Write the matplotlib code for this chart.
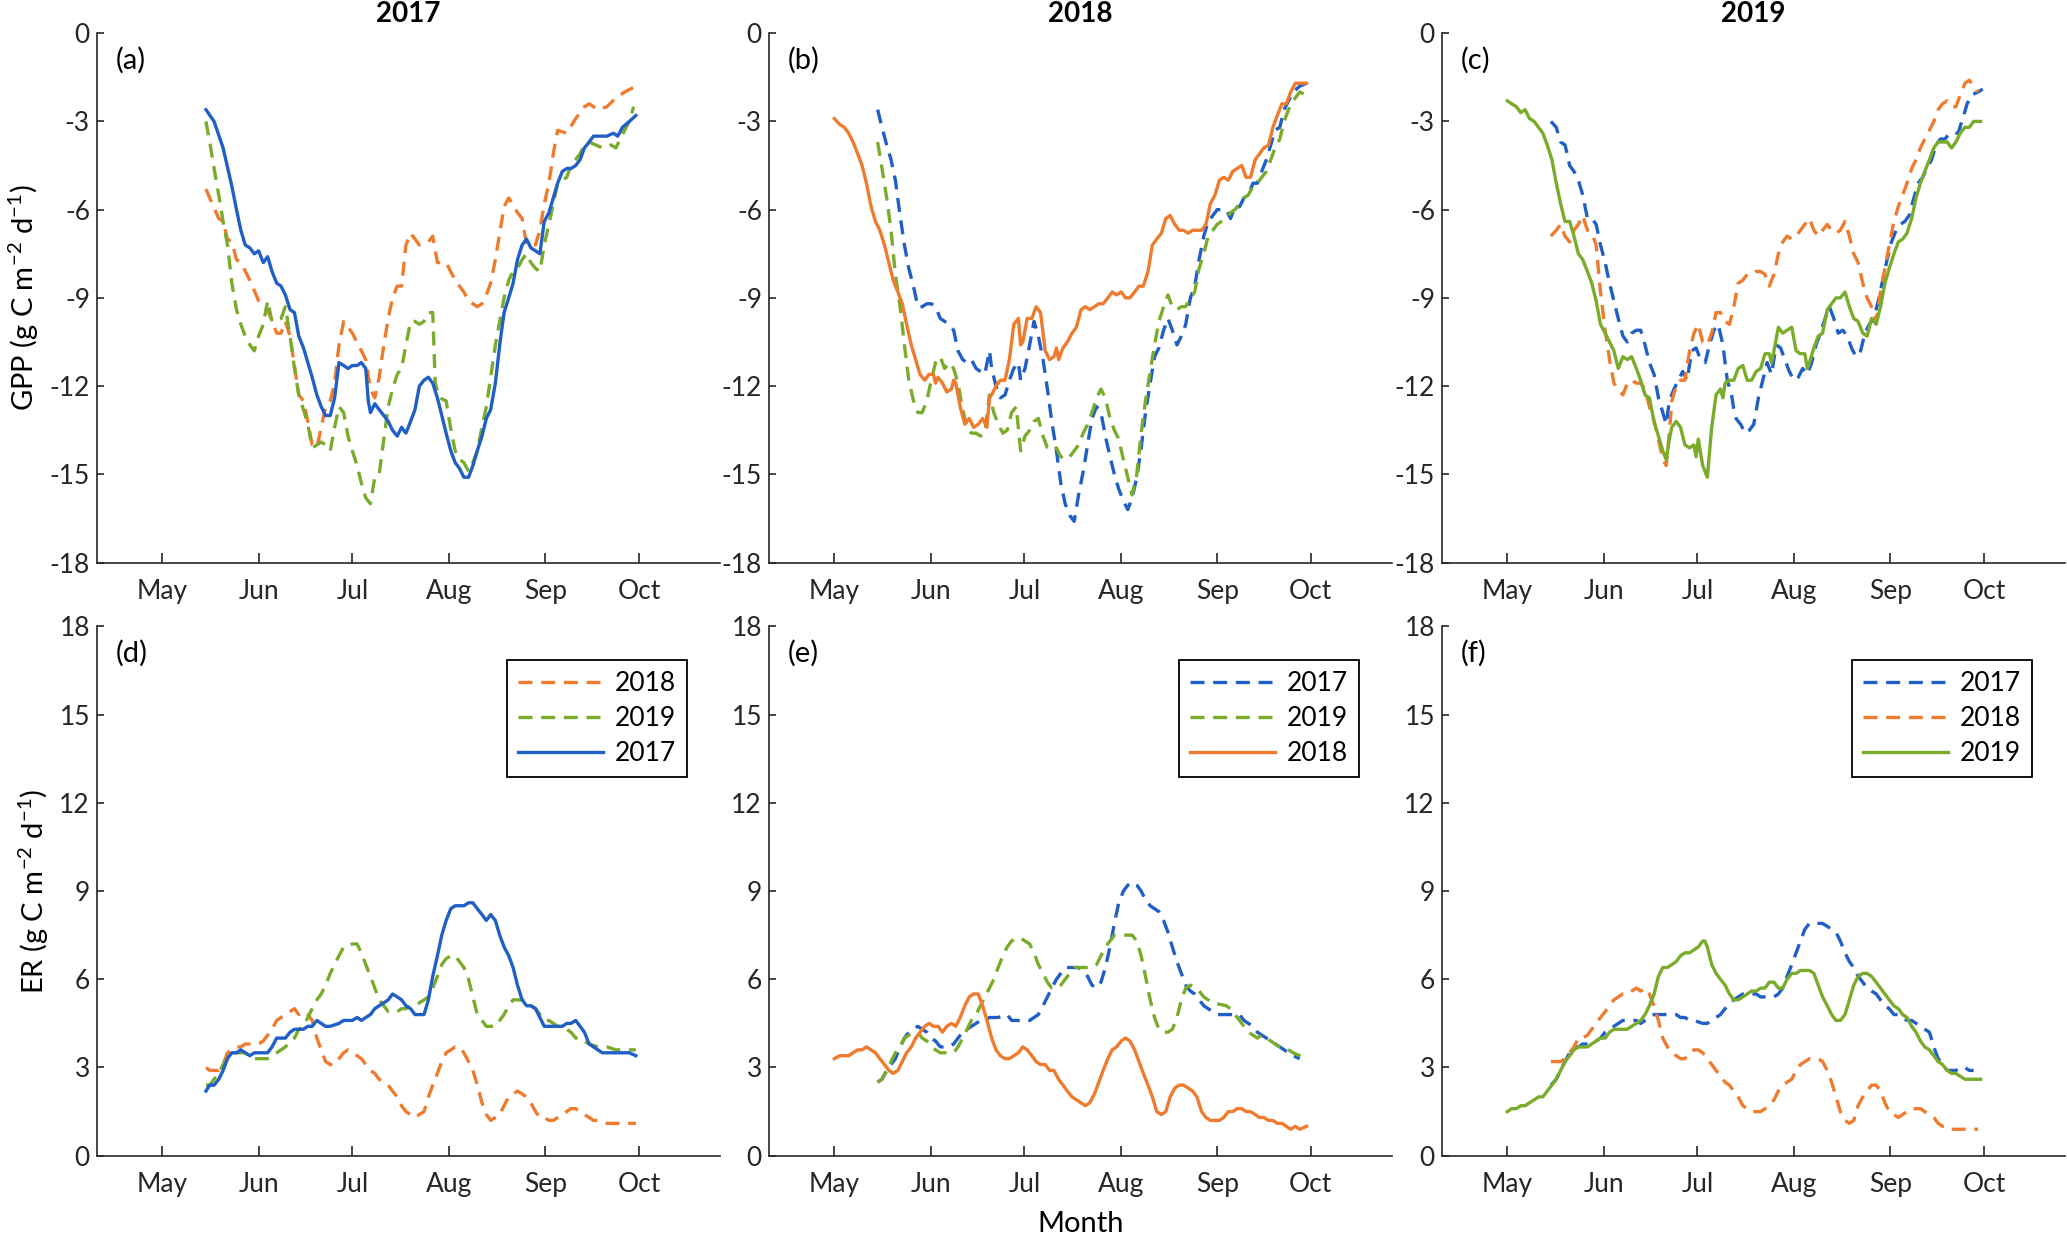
import matplotlib
matplotlib.use("Agg")
import matplotlib.pyplot as plt

plt.rcParams['font.family'] = ['Lato', 'DejaVu Sans']
plt.rcParams['mathtext.fontset'] = 'custom'
plt.rcParams['mathtext.rm'] = 'Lato'
plt.rcParams['mathtext.it'] = 'Lato:italic'
plt.rcParams['axes.unicode_minus'] = False

# day of year of the first of each month
month_days = [121, 152, 182, 213, 244, 274]
month_labels = ['May', 'Jun', 'Jul', 'Aug', 'Sep', 'Oct']
years = ['2017', '2018', '2019']

# ---- GPP, panel (a) : 2017 ----
gpp_a_2017 = [(135.0,-2.6),(137.6,-3.0),(140.5,-3.9),(143.3,-5.2),(144.8,-6.0),(146.2,-6.7),(147.6,-7.2),(149.1,-7.3),
              (150.5,-7.5),(151.9,-7.4),(153.4,-7.8),(154.8,-7.6),(156.2,-8.1),(157.7,-8.5),(159.1,-8.6),(160.5,-8.9),
              (162.0,-9.4),(163.4,-9.5),(164.8,-10.3),(166.3,-10.7),(167.7,-11.2),(169.1,-11.7),(170.6,-12.3),(172.0,-12.7),
              (173.4,-13.0),(174.9,-13.0),(176.3,-12.4),(177.7,-11.2),(179.2,-11.3),(180.6,-11.4),(182.0,-11.3),(183.5,-11.3),
              (184.9,-11.2),(186.3,-11.4),(187.1,-12.5),(187.8,-12.9),(189.2,-12.6),(190.6,-12.8),(192.1,-13.0),(193.5,-13.2),
              (194.9,-13.5),(196.4,-13.7),(197.8,-13.4),(199.2,-13.6),(200.7,-13.2),(202.1,-12.8),(203.5,-12.0),(205.0,-11.8),
              (206.4,-11.7),(207.8,-11.9),(209.3,-12.4),(210.7,-13.0),(212.1,-13.6),(213.6,-14.2),(215.0,-14.6),(216.4,-14.8),
              (217.8,-15.1),(219.3,-15.1),(220.7,-14.7),(222.1,-14.2),(223.6,-13.7),(225.0,-13.1),(226.4,-12.8),(227.9,-11.9),
              (229.3,-10.6),(230.7,-9.5),(232.2,-9.0),(233.6,-8.5),(235.0,-7.7),(236.5,-7.2),(237.9,-7.0),(239.3,-7.3),
              (240.8,-7.4),(242.2,-7.5),(243.6,-6.4),(245.1,-6.1),(246.5,-5.6),(247.9,-5.1),(249.4,-4.7),(250.8,-4.6),
              (252.2,-4.6),(253.7,-4.5),(255.1,-4.3),(256.5,-3.9),(258.0,-3.7),(259.4,-3.5),(262.3,-3.5),(263.7,-3.5),
              (265.8,-3.4),(267.2,-3.5),(268.7,-3.2),(270.9,-3.0),(273.0,-2.8)]
gpp_a_2018 = [(135.0,-5.3),(136.2,-5.6),(139.1,-6.3),(140.5,-6.4),(141.9,-7.0),(143.3,-7.1),(144.8,-7.7),(146.2,-7.8),
              (149.1,-8.4),(151.9,-9.1),(154.8,-9.4),(157.7,-10.2),(159.1,-10.2),(160.5,-9.8),(162.0,-10.3),(164.8,-12.3),
              (166.3,-12.5),(167.7,-13.2),(169.1,-14.0),(170.6,-14.1),(172.0,-13.4),(173.4,-12.7),(174.9,-12.5),(176.3,-11.9),
              (177.7,-10.6),(179.2,-9.8),(182.0,-10.2),(184.9,-10.8),(186.3,-11.1),(187.8,-12.1),(189.2,-12.4),(190.6,-11.7),
              (192.1,-10.6),(193.5,-9.7),(194.9,-9.0),(196.4,-8.6),(197.8,-8.6),(199.2,-7.2),(200.7,-6.8),(203.5,-7.2),
              (206.4,-7.1),(207.8,-6.9),(209.3,-7.8),(212.1,-7.8),(215.0,-8.4),(217.8,-8.8),(219.3,-9.1),(222.1,-9.3),
              (223.6,-9.2),(225.0,-8.9),(226.4,-8.5),(227.9,-7.7),(229.3,-6.8),(230.7,-5.9),(232.2,-5.6),(235.0,-6.1),
              (236.5,-6.3),(237.9,-7.2),(240.8,-7.2),(242.2,-6.7),(243.6,-5.8),(245.1,-5.1),(246.5,-4.1),(247.9,-3.3),
              (250.8,-3.4),(253.7,-2.9),(256.5,-2.5),(258.0,-2.4),(260.8,-2.6),(263.7,-2.5),(266.6,-2.2),(269.4,-2.0),
              (273.0,-1.8)]
gpp_a_2019 = [(135.0,-3.0),(136.2,-3.7),(137.6,-4.6),(139.1,-5.5),(140.5,-6.4),(141.9,-7.2),(143.3,-8.5),(144.8,-9.4),
              (146.2,-9.9),(147.6,-10.3),(149.1,-10.6),(150.5,-10.8),(151.9,-10.3),(153.4,-9.9),(154.8,-9.1),(156.2,-9.8),
              (159.1,-9.7),(160.5,-9.3),(162.0,-10.3),(163.4,-11.4),(164.8,-12.3),(166.3,-12.8),(167.7,-13.3),(169.1,-14.1),
              (170.6,-14.0),(172.0,-13.9),(173.4,-14.0),(174.9,-14.2),(176.3,-13.4),(177.7,-12.7),(179.2,-12.9),(180.6,-13.7),
              (182.0,-14.2),(183.5,-14.7),(184.9,-15.3),(186.3,-15.8),(187.8,-16.0),(189.2,-15.1),(190.6,-15.0),(192.1,-13.8),
              (193.5,-12.7),(194.9,-12.1),(196.4,-11.6),(197.8,-11.4),(199.2,-10.6),(200.7,-9.8),(202.1,-9.8),(203.5,-9.9),
              (205.0,-9.8),(206.4,-9.5),(207.8,-9.5),(208.6,-11.9),(210.0,-12.4),(212.1,-12.5),(213.5,-13.4),(215.0,-14.2),
              (216.4,-14.5),(217.8,-14.6),(219.3,-14.9),(220.7,-14.6),(222.1,-14.2),(223.6,-13.4),(225.0,-12.7),(226.4,-11.7),
              (227.9,-10.6),(229.3,-9.8),(230.7,-9.0),(232.2,-8.4),(233.6,-8.1),(235.0,-8.0),(236.5,-7.7),(237.9,-7.5),
              (239.3,-7.8),(240.8,-8.0),(242.2,-8.1),(243.6,-7.2),(245.1,-6.5),(246.5,-5.8),(247.9,-5.1),(250.8,-4.9),
              (252.2,-4.5),(255.1,-4.1),(256.5,-3.8),(258.0,-3.7),(262.3,-3.9),(265.1,-3.8),(266.6,-3.9),(268.0,-3.6),
              (269.4,-3.3),(270.9,-3.0),(272.3,-2.5)]

# ---- GPP, panel (b) : 2018 ----
gpp_b_2017 = [(134.9,-2.6),(136.3,-3.2),(137.8,-3.8),(139.2,-4.3),(140.6,-5.0),(142.1,-6.2),(143.5,-7.2),(144.9,-8.0),
              (146.4,-8.6),(147.8,-9.3),(149.2,-9.3),(150.7,-9.2),(152.1,-9.2),(153.5,-9.3),(155.0,-9.7),(156.4,-9.8),
              (157.9,-9.9),(159.3,-10.1),(160.7,-10.8),(162.2,-11.1),(163.6,-11.2),(165.0,-11.1),(166.5,-11.4),(167.9,-11.5),
              (169.3,-11.6),(170.8,-10.8),(171.5,-11.4),(172.9,-12.0),(174.3,-12.4),(175.8,-12.3),(177.2,-11.8),(178.6,-11.4),
              (180.1,-11.2),(180.8,-11.8),(182.2,-11.4),(183.7,-10.6),(185.1,-9.8),(186.5,-10.3),(188.0,-11.1),(189.4,-12.1),
              (190.8,-13.2),(192.3,-14.2),(193.7,-15.3),(195.1,-16.0),(196.6,-16.4),(198.0,-16.6),(199.4,-15.7),(200.9,-14.9),
              (202.3,-14.0),(203.7,-13.1),(205.2,-12.7),(206.6,-12.9),(208.0,-13.7),(209.5,-14.4),(210.9,-15.0),(212.3,-15.5),
              (213.8,-15.9),(215.2,-16.2),(216.6,-15.8),(218.1,-15.1),(219.5,-14.1),(220.9,-12.9),(222.4,-11.9),(223.8,-11.0),
              (225.2,-10.7),(226.7,-10.1),(228.1,-9.7),(229.5,-10.1),(231.0,-10.6),(232.4,-10.3),(233.8,-9.9),(235.3,-9.0),
              (236.7,-8.6),(238.1,-7.7),(239.6,-6.9),(241.0,-6.4),(242.5,-6.2),(243.9,-6.0),(245.3,-6.0),(246.8,-6.0),
              (248.2,-6.3),(249.6,-5.9),(251.1,-5.9),(252.5,-5.6),(253.9,-5.5),(255.4,-5.1),(256.8,-5.1),(258.2,-4.7),
              (259.7,-4.3),(261.1,-3.8),(262.5,-3.3),(264.0,-3.2),(265.4,-2.6),(266.8,-2.3),(268.3,-2.0),(270.4,-1.8),
              (272.6,-1.7)]
gpp_b_2019 = [(134.9,-3.7),(136.3,-4.6),(137.8,-5.6),(139.2,-6.7),(140.6,-8.2),(142.1,-9.3),(143.5,-10.6),(144.9,-11.8),
              (146.4,-12.5),(147.8,-12.9),(149.2,-12.9),(150.7,-12.5),(152.1,-11.8),(153.5,-11.2),(155.0,-11.0),(156.4,-11.4),
              (157.9,-11.2),(159.3,-11.4),(160.7,-11.9),(162.2,-12.8),(163.6,-13.4),(165.0,-13.6),(166.5,-13.6),(167.9,-13.7),
              (169.3,-13.6),(170.8,-12.3),(172.2,-12.9),(173.6,-13.3),(175.1,-13.6),(176.5,-13.5),(177.9,-12.9),(179.4,-12.7),
              (180.8,-14.2),(182.2,-13.7),(183.7,-13.5),(185.1,-13.2),(186.5,-13.1),(188.0,-13.7),(189.4,-14.1),(190.8,-14.2),
              (192.3,-14.1),(193.7,-14.4),(195.1,-14.5),(196.6,-14.4),(198.0,-14.2),(199.4,-14.0),(200.9,-13.6),(202.3,-13.3),
              (203.7,-12.9),(205.2,-12.4),(206.6,-12.1),(208.0,-12.4),(209.5,-13.1),(210.9,-13.5),(212.3,-13.8),(213.8,-14.5),
              (215.2,-15.1),(216.6,-15.7),(218.1,-15.0),(219.5,-13.6),(220.9,-12.5),(222.4,-11.5),(223.8,-10.6),(225.2,-9.8),
              (226.7,-9.3),(228.1,-8.9),(229.5,-9.3),(231.0,-9.4),(232.4,-9.3),(233.8,-9.3),(235.3,-9.0),(236.7,-8.8),
              (238.1,-8.0),(239.6,-7.5),(241.0,-6.9),(242.5,-6.7),(243.9,-6.5),(245.3,-6.4),(246.8,-6.3),(248.2,-6.1),
              (249.6,-6.0),(251.1,-5.8),(252.5,-5.6),(253.9,-5.5),(255.4,-5.2),(256.8,-5.1),(258.2,-4.9),(259.7,-4.7),
              (261.1,-4.3),(262.5,-3.9),(264.0,-3.6),(265.4,-3.0),(266.8,-2.6),(268.3,-2.3),(270.4,-2.0),(272.6,-2.1)]
gpp_b_2018 = [(121.0,-2.9),(122.7,-3.1),(124.2,-3.2),(125.6,-3.4),(127.0,-3.7),(128.5,-4.1),(129.9,-4.5),(131.3,-5.1),
              (132.8,-5.9),(134.2,-6.4),(135.6,-6.7),(137.1,-7.2),(138.5,-7.8),(139.9,-8.4),(141.4,-8.8),(142.8,-9.2),
              (144.2,-9.9),(145.7,-10.6),(147.1,-11.1),(148.5,-11.6),(150.0,-11.8),(151.4,-11.6),(152.8,-11.6),(153.5,-11.9),
              (154.3,-11.7),(155.7,-11.9),(157.1,-12.2),(158.6,-12.1),(159.3,-11.8),(160.0,-11.9),(161.4,-12.7),(162.9,-13.3),
              (164.3,-13.1),(165.7,-13.4),(167.2,-13.3),(168.6,-13.1),(170.0,-13.4),(170.8,-12.4),(171.5,-12.3),(172.9,-12.0),
              (174.3,-11.8),(175.8,-11.8),(177.2,-11.1),(178.6,-9.9),(180.1,-9.7),(180.8,-10.6),(181.5,-10.5),(182.9,-9.7),
              (184.4,-9.7),(185.8,-9.3),(187.2,-9.5),(188.7,-10.8),(190.1,-11.1),(191.5,-11.0),(192.3,-10.7),(193.0,-11.1),
              (194.4,-10.7),(195.8,-10.5),(197.3,-10.2),(198.7,-10.0),(200.2,-9.4),(201.6,-9.3),(203.0,-9.4),(204.5,-9.3),
              (205.9,-9.2),(207.3,-9.2),(208.8,-9.0),(210.2,-8.8),(211.6,-8.9),(213.1,-8.8),(214.5,-9.0),(215.9,-9.0),
              (217.4,-8.8),(218.8,-8.6),(220.2,-8.6),(221.7,-8.1),(223.1,-7.2),(224.5,-7.0),(226.0,-6.8),(227.4,-6.3),
              (228.8,-6.2),(230.3,-6.5),(231.7,-6.7),(233.1,-6.7),(234.6,-6.8),(236.0,-6.7),(237.4,-6.7),(238.9,-6.7),
              (240.3,-6.5),(241.7,-5.8),(243.2,-5.5),(244.6,-5.0),(246.0,-4.9),(247.5,-5.0),(248.9,-4.7),(250.3,-4.6),
              (251.8,-4.5),(253.2,-4.9),(254.6,-4.9),(256.1,-4.3),(257.5,-4.1),(258.9,-3.9),(260.4,-3.8),(261.8,-3.2),
              (263.2,-2.8),(264.7,-2.4),(266.1,-2.4),(267.5,-2.0),(269.0,-1.7),(270.4,-1.7),(272.6,-1.7)]

# ---- GPP, panel (c) : 2019 ----
gpp_c_2017 = [(135.0,-3.0),(136.7,-3.2),(138.1,-3.7),(139.5,-3.8),(140.2,-4.1),(141.0,-4.5),(142.4,-4.7),(143.8,-5.0),
              (145.2,-5.5),(146.7,-6.3),(148.1,-6.3),(149.5,-6.5),(150.9,-7.2),(152.4,-7.8),(153.8,-8.5),(155.2,-9.1),
              (156.6,-9.7),(158.1,-10.3),(159.5,-10.5),(160.9,-10.2),(162.4,-10.1),(163.8,-10.1),(165.2,-10.6),(166.6,-11.2),
              (168.1,-11.6),(169.5,-12.4),(170.9,-12.9),(172.0,-13.3),(173.0,-12.5),(174.5,-12.1),(175.9,-11.8),(177.3,-11.5),
              (178.7,-11.8),(180.2,-10.8),(181.6,-10.7),(183.0,-11.1),(184.5,-11.2),(185.9,-10.6),(187.3,-10.1),(188.7,-9.9),
              (190.2,-10.6),(191.6,-11.8),(193.0,-12.3),(193.7,-12.8),(194.4,-13.1),(195.9,-13.3),(197.3,-13.6),(198.7,-13.5),
              (200.1,-13.3),(201.6,-12.4),(203.0,-11.8),(204.4,-11.2),(205.8,-11.6),(207.3,-10.6),(208.7,-10.7),(210.1,-11.1),
              (211.5,-11.5),(213.0,-11.8),(214.4,-11.7),(215.8,-11.4),(217.3,-11.6),(218.7,-11.2),(220.1,-10.6),(221.5,-10.2),
              (223.0,-9.7),(224.4,-9.3),(225.8,-9.7),(227.2,-10.2),(228.7,-10.1),(230.1,-10.3),(231.5,-10.7),(232.9,-11.0),
              (234.4,-10.8),(235.8,-10.2),(237.2,-9.9),(238.6,-9.7),(240.1,-9.1),(241.5,-8.4),(242.9,-7.7),(244.3,-7.1),
              (245.8,-6.7),(247.2,-6.5),(248.6,-6.4),(250.0,-6.2),(251.5,-5.6),(252.9,-5.1),(254.3,-4.9),(255.7,-4.6),
              (257.2,-4.3),(258.6,-3.8),(260.0,-3.6),(261.5,-3.6),(262.9,-3.4),(264.3,-3.4),(265.7,-3.4),(267.2,-2.9),
              (268.6,-2.4),(270.0,-2.1),(272.1,-2.0),(273.6,-1.9)]
gpp_c_2018 = [(135.0,-6.9),(136.7,-6.7),(138.1,-6.5),(139.5,-6.9),(141.0,-7.1),(142.4,-6.7),(143.8,-6.5),(145.2,-6.2),
              (146.7,-6.7),(148.1,-6.8),(149.5,-7.2),(150.9,-8.8),(152.4,-10.1),(153.8,-11.1),(155.2,-11.9),(156.6,-12.1),
              (158.1,-12.3),(159.5,-11.9),(160.9,-11.8),(162.4,-11.9),(163.8,-11.9),(165.2,-12.1),(166.6,-12.7),(168.1,-13.2),
              (169.5,-13.8),(170.9,-14.5),(172.0,-14.7),(173.0,-13.6),(173.8,-12.5),(175.2,-12.0),(176.6,-11.8),(178.0,-11.8),
              (179.5,-10.8),(180.9,-10.2),(182.3,-9.9),(183.7,-10.5),(185.2,-10.6),(186.6,-10.2),(188.0,-9.5),(189.4,-9.5),
              (190.9,-9.8),(192.3,-9.9),(193.7,-9.3),(195.1,-8.5),(196.6,-8.4),(198.0,-8.2),(199.4,-8.2),(200.9,-8.1),
              (202.3,-8.1),(203.7,-8.2),(205.1,-8.6),(206.6,-8.2),(208.0,-7.5),(209.4,-7.1),(210.8,-6.9),(212.3,-7.0),
              (213.7,-6.9),(215.1,-6.7),(216.5,-6.5),(218.0,-6.3),(219.4,-6.7),(220.8,-6.9),(222.2,-6.7),(223.7,-6.5),
              (225.1,-6.7),(226.5,-6.8),(227.9,-6.7),(229.4,-6.4),(230.8,-6.9),(232.2,-7.5),(233.6,-7.8),(235.1,-8.5),
              (236.5,-9.0),(237.9,-9.3),(239.4,-9.8),(240.8,-8.8),(242.2,-8.0),(243.6,-7.2),(245.1,-6.4),(246.5,-5.9),
              (247.9,-5.5),(249.3,-5.1),(250.8,-4.6),(252.2,-4.3),(253.6,-3.9),(255.0,-3.6),(256.5,-3.3),(257.9,-3.0),
              (259.3,-2.6),(260.7,-2.4),(262.2,-2.3),(263.6,-2.5),(265.0,-2.5),(266.4,-2.1),(267.9,-1.7),(269.3,-1.6),
              (270.7,-1.8),(272.1,-2.0)]
gpp_c_2019 = [(121.0,-2.3),(122.4,-2.4),(123.9,-2.5),(125.3,-2.7),(126.7,-2.6),(128.1,-2.9),(129.6,-3.0),(131.0,-3.2),
              (132.4,-3.4),(133.8,-3.8),(135.3,-4.3),(136.7,-5.1),(138.1,-5.8),(139.5,-6.4),(141.0,-6.4),(142.4,-6.9),
              (143.8,-7.5),(145.2,-7.7),(146.7,-8.1),(148.1,-8.5),(149.5,-9.1),(150.9,-9.9),(152.4,-10.2),(153.8,-10.5),
              (155.2,-10.8),(156.6,-11.4),(158.1,-11.0),(159.5,-11.1),(160.9,-11.0),(162.4,-11.4),(163.8,-11.8),(165.2,-12.3),
              (166.6,-12.4),(168.1,-13.2),(169.5,-13.7),(170.9,-14.2),(172.0,-14.5),(173.0,-13.8),(173.8,-13.4),(175.2,-13.2),
              (176.6,-13.4),(178.0,-14.0),(179.5,-14.1),(180.9,-14.0),(181.6,-14.4),(182.3,-13.8),(183.7,-14.7),(185.2,-15.1),
              (186.6,-13.4),(188.0,-12.3),(189.4,-12.1),(190.2,-12.4),(190.9,-11.9),(192.3,-11.8),(193.7,-11.8),(195.1,-11.4),
              (196.6,-11.3),(198.0,-11.8),(199.4,-11.8),(200.9,-11.5),(202.3,-11.4),(203.7,-10.9),(205.1,-10.9),(205.8,-11.2),
              (206.6,-10.8),(208.0,-10.0),(209.4,-10.2),(210.8,-10.1),(212.3,-10.0),(213.7,-10.8),(215.1,-10.9),(216.5,-10.9),
              (217.3,-11.4),(218.0,-11.2),(219.4,-10.7),(220.8,-10.3),(222.2,-10.2),(223.7,-9.4),(225.1,-9.2),(226.5,-9.0),
              (227.9,-9.0),(229.4,-8.8),(230.8,-9.3),(232.2,-9.7),(233.6,-9.8),(235.1,-10.2),(236.5,-10.3),(237.9,-9.7),
              (239.4,-9.9),(240.8,-9.3),(242.2,-8.5),(243.6,-8.0),(245.1,-7.5),(246.5,-7.1),(247.9,-7.0),(249.3,-6.8),
              (250.8,-6.3),(252.2,-5.6),(253.6,-5.1),(255.0,-4.7),(256.5,-4.3),(257.9,-3.9),(259.3,-3.7),(260.7,-3.7),
              (262.2,-3.7),(263.6,-3.9),(265.0,-3.7),(266.4,-3.4),(267.9,-3.2),(269.3,-3.2),(270.7,-3.0),(272.9,-3.0)]

# ---- ER, panel (d) : 2017 ----
er_d_2018 = [(135.0,3.0),(136.2,2.9),(137.6,2.9),(139.1,2.9),(140.5,3.1),(141.9,3.5),(143.3,3.6),(144.8,3.7),
             (146.2,3.7),(147.6,3.8),(151.9,3.8),(153.4,3.9),(154.8,4.1),(156.2,4.3),(157.7,4.6),(159.1,4.7),
             (160.5,4.8),(162.0,4.9),(163.4,5.0),(164.8,4.8),(166.3,4.9),(167.7,4.8),(169.1,4.6),(170.6,4.0),
             (172.0,3.6),(173.4,3.2),(174.9,3.1),(176.3,3.1),(177.7,3.3),(179.2,3.5),(180.6,3.6),(182.0,3.5),
             (183.5,3.4),(184.9,3.3),(186.3,3.1),(187.8,2.9),(189.2,2.8),(190.6,2.6),(192.1,2.5),(193.5,2.4),
             (194.9,2.2),(196.4,2.0),(197.8,1.7),(199.2,1.5),(200.7,1.4),(202.1,1.3),(203.5,1.4),(205.0,1.5),
             (206.4,2.0),(207.8,2.4),(209.3,2.8),(210.7,3.2),(212.1,3.5),(213.6,3.6),(215.0,3.7),(216.4,3.7),
             (217.8,3.5),(219.3,3.2),(220.7,2.9),(222.1,2.4),(223.6,1.8),(225.0,1.4),(226.4,1.2),(227.9,1.3),
             (229.3,1.4),(230.7,1.7),(232.2,2.0),(233.6,2.1),(235.0,2.2),(236.5,2.1),(237.9,2.0),(239.3,1.8),
             (240.8,1.5),(242.2,1.3),(243.6,1.3),(245.1,1.2),(246.5,1.2),(247.9,1.3),(249.4,1.4),(250.8,1.5),
             (252.2,1.6),(253.7,1.6),(255.1,1.5),(256.5,1.4),(258.0,1.3),(259.4,1.2),(260.8,1.2),(263.7,1.1),
             (266.6,1.1),(269.4,1.1),(273.0,1.1)]
er_d_2019 = [(135.0,2.4),(136.2,2.4),(137.6,2.6),(139.1,2.8),(140.5,3.1),(141.9,3.3),(143.3,3.5),(144.8,3.5),
             (146.2,3.5),(147.6,3.5),(149.1,3.4),(150.5,3.3),(153.4,3.3),(154.8,3.3),(156.2,3.4),(157.7,3.5),
             (159.1,3.6),(160.5,3.7),(162.0,3.9),(163.4,4.0),(164.8,4.3),(166.3,4.4),(167.7,4.7),(169.1,5.0),
             (170.6,5.3),(172.0,5.5),(173.4,5.8),(174.9,6.2),(176.3,6.5),(177.7,6.8),(179.2,7.1),(182.0,7.2),
             (183.5,7.2),(184.9,6.9),(186.3,6.5),(187.8,6.1),(189.2,5.7),(190.6,5.3),(192.1,5.1),(193.5,4.9),
             (196.4,4.9),(197.8,5.0),(199.2,5.0),(200.7,5.1),(202.1,5.1),(203.5,5.2),(205.0,5.3),(206.4,5.4),
             (207.8,5.7),(209.3,6.1),(210.7,6.5),(212.1,6.7),(213.6,6.8),(215.0,6.8),(216.4,6.6),(217.8,6.4),
             (219.3,6.0),(220.7,5.4),(222.1,4.8),(223.6,4.6),(225.0,4.4),(226.4,4.4),(227.9,4.4),(229.3,4.6),
             (230.7,4.8),(232.2,5.1),(233.6,5.3),(236.5,5.3),(237.9,5.2),(239.3,5.1),(240.8,5.0),(242.2,4.8),
             (243.6,4.6),(245.1,4.6),(246.5,4.5),(247.9,4.4),(250.8,4.3),(252.2,4.2),(253.7,4.0),(255.1,4.0),
             (256.5,3.9),(258.0,3.8),(260.8,3.7),(263.7,3.7),(266.6,3.6),(269.4,3.6),(273.0,3.6)]
er_d_2017 = [(135.0,2.2),(136.2,2.4),(137.6,2.4),(139.1,2.6),(140.5,2.9),(141.9,3.3),(143.3,3.5),(144.8,3.5),
             (146.2,3.6),(147.6,3.5),(149.1,3.4),(150.5,3.5),(153.4,3.5),(154.8,3.5),(156.2,3.7),(157.7,4.0),
             (160.5,4.0),(162.0,4.2),(163.4,4.3),(166.3,4.3),(167.7,4.4),(169.1,4.4),(170.6,4.6),(172.0,4.5),
             (173.4,4.4),(174.9,4.4),(177.7,4.5),(179.2,4.6),(182.0,4.6),(183.5,4.7),(184.9,4.6),(186.3,4.7),
             (187.8,4.8),(189.2,5.0),(190.6,5.1),(192.1,5.2),(193.5,5.3),(194.9,5.5),(196.4,5.4),(197.8,5.3),
             (199.2,5.1),(200.7,5.0),(202.1,4.8),(203.5,4.8),(205.0,4.8),(206.4,5.3),(207.8,6.1),(209.3,6.8),
             (210.7,7.5),(212.1,8.0),(213.6,8.4),(215.0,8.5),(217.8,8.5),(219.3,8.6),(220.7,8.6),(222.1,8.4),
             (223.6,8.2),(225.0,8.0),(226.4,8.2),(227.9,8.0),(229.3,7.5),(230.7,7.1),(232.2,6.8),(233.6,6.4),
             (235.0,5.8),(236.5,5.3),(237.9,5.1),(239.3,5.1),(240.8,5.0),(242.2,4.7),(243.6,4.4),(246.5,4.4),
             (249.4,4.4),(250.8,4.5),(252.2,4.5),(253.7,4.6),(255.1,4.4),(256.5,4.2),(258.0,3.8),(259.4,3.7),
             (260.8,3.6),(262.3,3.5),(266.6,3.5),(269.4,3.5),(270.9,3.5),(273.0,3.4)]

# ---- ER, panel (e) : 2018 ----
er_e_2017 = [(134.9,2.5),(136.3,2.6),(137.8,2.9),(139.2,3.1),(140.6,3.3),(142.1,3.7),(143.5,4.0),(144.9,4.2),
             (146.4,4.3),(147.8,4.4),(149.2,4.3),(150.7,4.2),(152.1,4.0),(153.5,3.9),(155.0,3.7),(157.9,3.7),
             (159.3,3.8),(160.7,4.0),(162.2,4.2),(163.6,4.3),(165.0,4.4),(166.5,4.5),(167.9,4.6),(169.3,4.6),
             (170.8,4.7),(173.6,4.7),(176.5,4.8),(177.9,4.6),(179.4,4.6),(182.2,4.6),(183.7,4.6),(185.1,4.7),
             (186.5,4.8),(188.0,5.1),(189.4,5.4),(190.8,5.7),(192.3,6.0),(193.7,6.2),(195.1,6.4),(198.0,6.4),
             (199.4,6.4),(200.9,6.3),(202.3,6.1),(203.7,5.8),(205.2,5.7),(206.6,5.9),(208.0,6.4),(209.5,7.1),
             (210.9,7.9),(212.3,8.6),(213.8,9.0),(215.2,9.2),(216.6,9.3),(218.1,9.2),(219.5,9.0),(220.9,8.7),
             (222.4,8.5),(223.8,8.4),(225.2,8.3),(226.7,8.0),(228.1,7.6),(229.5,7.1),(231.0,6.6),(232.4,6.2),
             (233.8,5.8),(235.3,5.6),(236.7,5.5),(238.1,5.3),(239.6,5.1),(241.0,5.0),(242.5,4.9),(243.9,4.8),
             (251.1,4.8),(252.5,4.6),(253.9,4.5),(255.4,4.4),(256.8,4.2),(258.2,4.1),(259.7,4.0),(261.1,3.9),
             (262.5,3.8),(264.0,3.7),(265.4,3.6),(266.8,3.5),(268.3,3.4),(270.4,3.3)]
er_e_2019 = [(134.9,2.5),(136.3,2.6),(137.8,2.9),(139.2,3.2),(140.6,3.5),(142.1,3.7),(143.5,4.0),(144.9,4.1),
             (146.4,4.2),(147.8,4.2),(149.2,4.0),(150.7,3.9),(152.1,3.7),(153.5,3.6),(155.0,3.5),(156.4,3.5),
             (157.9,3.5),(159.3,3.5),(160.7,3.7),(162.2,4.0),(163.6,4.3),(165.0,4.6),(166.5,4.8),(167.9,5.1),
             (169.3,5.4),(170.8,5.7),(172.2,6.0),(173.6,6.4),(175.1,6.8),(176.5,7.1),(177.9,7.3),(179.4,7.4),
             (180.8,7.4),(182.2,7.3),(183.7,7.2),(185.1,6.9),(186.5,6.5),(188.0,6.2),(189.4,5.9),(190.8,5.7),
             (192.3,5.7),(193.7,5.8),(195.1,6.0),(196.6,6.2),(198.0,6.4),(199.4,6.4),(203.7,6.4),(205.2,6.5),
             (206.6,6.8),(208.0,7.1),(209.5,7.3),(210.9,7.5),(213.8,7.5),(216.6,7.5),(218.1,7.3),(219.5,6.8),
             (220.9,6.1),(222.4,5.3),(223.8,4.7),(225.2,4.3),(226.7,4.2),(228.1,4.2),(229.5,4.3),(231.0,4.7),
             (232.4,5.3),(233.8,5.7),(235.3,5.8),(236.7,5.7),(238.1,5.6),(239.6,5.4),(241.0,5.3),(242.5,5.2),
             (246.8,5.1),(248.2,5.0),(249.6,4.8),(251.1,4.6),(252.5,4.4),(253.9,4.2),(255.4,4.1),(256.8,4.0),
             (258.2,4.1),(259.7,4.0),(261.1,3.9),(262.5,3.8),(264.0,3.7),(265.4,3.7),(266.8,3.6),(268.3,3.5),
             (270.4,3.4),(272.6,3.3)]
er_e_2018 = [(121.0,3.3),(122.7,3.4),(124.2,3.4),(125.6,3.4),(127.0,3.5),(128.5,3.6),(129.9,3.6),(131.3,3.7),
             (132.8,3.6),(134.2,3.5),(135.6,3.3),(137.1,3.1),(138.5,2.9),(139.9,2.8),(141.4,2.9),(142.8,3.2),
             (144.2,3.5),(145.7,3.7),(147.1,4.0),(148.5,4.2),(150.0,4.4),(151.4,4.5),(152.8,4.4),(154.3,4.4),
             (155.7,4.2),(157.1,4.4),(158.6,4.5),(160.0,4.4),(161.4,4.7),(162.9,5.1),(164.3,5.4),(165.7,5.5),
             (167.2,5.5),(168.6,5.1),(170.0,4.6),(171.5,4.0),(172.9,3.6),(174.3,3.4),(175.8,3.3),(177.2,3.3),
             (178.6,3.4),(180.1,3.5),(181.5,3.7),(182.9,3.6),(184.4,3.4),(185.8,3.2),(187.2,3.1),(188.7,3.1),
             (190.1,2.9),(191.5,2.9),(193.0,2.6),(194.4,2.4),(195.8,2.2),(197.3,2.0),(198.7,1.9),(200.2,1.8),
             (201.6,1.7),(203.0,1.8),(204.5,2.1),(205.9,2.5),(207.3,2.9),(208.8,3.3),(210.2,3.6),(211.6,3.7),
             (213.1,3.9),(214.5,4.0),(215.9,3.9),(217.4,3.6),(218.8,3.2),(220.2,2.8),(221.7,2.4),(223.1,2.0),
             (224.5,1.5),(226.0,1.4),(227.4,1.5),(228.8,2.0),(230.3,2.3),(231.7,2.4),(233.1,2.4),(234.6,2.3),
             (236.0,2.2),(237.4,2.0),(238.9,1.5),(240.3,1.3),(241.7,1.2),(244.6,1.2),(246.0,1.3),(247.5,1.5),
             (248.9,1.5),(250.3,1.6),(251.8,1.6),(253.2,1.5),(254.6,1.5),(256.1,1.4),(257.5,1.3),(258.9,1.3),
             (260.4,1.2),(261.8,1.2),(263.2,1.1),(264.7,1.1),(266.1,1.0),(267.5,0.9),(269.0,1.0),(270.4,0.9),
             (272.6,1.0)]

# ---- ER, panel (f) : 2019 ----
er_f_2017 = [(135.0,2.4),(136.7,2.6),(138.1,2.9),(139.5,3.2),(141.0,3.5),(142.4,3.7),(143.8,3.7),(145.2,3.8),
             (146.7,3.8),(148.1,3.8),(149.5,3.9),(150.9,4.0),(152.4,4.2),(153.8,4.3),(155.2,4.4),(156.6,4.5),
             (158.1,4.6),(160.9,4.6),(162.4,4.6),(163.8,4.5),(165.2,4.6),(166.6,4.7),(168.1,4.8),(172.4,4.8),
             (175.2,4.8),(176.6,4.7),(178.0,4.7),(179.5,4.6),(180.9,4.6),(183.7,4.5),(185.2,4.5),(186.6,4.6),
             (188.0,4.7),(189.4,4.8),(190.9,5.0),(192.3,5.2),(193.7,5.3),(195.1,5.4),(196.6,5.5),(199.4,5.5),
             (200.9,5.5),(202.3,5.4),(206.6,5.4),(208.0,5.5),(209.4,5.7),(210.8,6.1),(212.3,6.5),(213.7,6.9),
             (215.1,7.3),(216.5,7.7),(218.0,7.9),(219.4,7.9),(222.2,7.9),(223.7,7.8),(225.1,7.7),(226.5,7.6),
             (227.9,7.3),(229.4,6.9),(230.8,6.6),(232.2,6.4),(233.6,6.1),(235.1,5.9),(236.5,5.7),(237.9,5.6),
             (239.4,5.5),(240.8,5.3),(242.2,5.1),(243.6,5.0),(245.1,4.8),(246.5,4.8),(247.9,4.7),(249.3,4.6),
             (250.8,4.6),(252.2,4.5),(253.6,4.4),(255.0,4.3),(256.5,4.2),(257.9,3.7),(259.3,3.3),(260.7,3.1),
             (262.2,2.9),(265.0,2.9),(266.4,3.0),(267.9,3.0),(269.3,2.9),(270.7,2.9)]
er_f_2018 = [(135.0,3.2),(136.7,3.2),(138.1,3.2),(139.5,3.3),(141.0,3.5),(142.4,3.7),(143.8,4.0),(145.2,4.0),
             (146.7,4.1),(148.1,4.3),(149.5,4.5),(150.9,4.7),(152.4,4.9),(153.8,5.1),(155.2,5.3),(156.6,5.4),
             (158.1,5.5),(159.5,5.5),(160.9,5.6),(162.4,5.7),(163.8,5.6),(165.2,5.7),(166.6,5.5),(168.1,5.1),
             (169.5,4.6),(170.9,4.0),(172.4,3.7),(173.8,3.5),(175.2,3.4),(176.6,3.3),(178.0,3.3),(179.5,3.5),
             (180.9,3.6),(182.3,3.6),(183.7,3.5),(185.2,3.3),(186.6,3.1),(188.0,2.9),(189.4,2.7),(190.9,2.5),
             (192.3,2.4),(193.7,2.2),(195.1,2.0),(196.6,1.7),(198.0,1.6),(199.4,1.5),(202.3,1.5),(203.7,1.6),
             (205.1,1.7),(206.6,1.9),(208.0,2.2),(209.4,2.4),(210.8,2.5),(212.3,2.6),(213.7,2.9),(215.1,3.1),
             (216.5,3.2),(218.0,3.3),(220.8,3.3),(222.2,3.2),(223.7,2.9),(225.1,2.5),(226.5,2.0),(227.9,1.5),
             (229.4,1.2),(230.8,1.1),(232.2,1.2),(233.6,1.7),(235.1,2.0),(236.5,2.2),(237.9,2.4),(239.4,2.4),
             (240.8,2.2),(242.2,1.8),(243.6,1.5),(245.1,1.4),(246.5,1.3),(247.9,1.4),(249.3,1.5),(250.8,1.6),
             (253.6,1.6),(255.0,1.5),(256.5,1.4),(257.9,1.3),(259.3,1.1),(260.7,1.0),(262.2,1.0),(263.6,0.9),
             (272.1,0.9)]
er_f_2019 = [(121.0,1.5),(122.4,1.6),(123.9,1.6),(125.3,1.7),(126.7,1.7),(128.1,1.8),(129.6,1.9),(131.0,2.0),
             (132.4,2.0),(133.8,2.2),(135.3,2.4),(136.7,2.6),(138.1,2.9),(139.5,3.2),(141.0,3.4),(142.4,3.6),
             (143.8,3.7),(145.2,3.7),(146.7,3.7),(148.1,3.8),(149.5,3.9),(150.9,4.0),(152.4,4.0),(153.8,4.2),
             (155.2,4.3),(156.6,4.3),(158.1,4.3),(159.5,4.3),(160.9,4.4),(162.4,4.5),(163.8,4.6),(165.2,4.8),
             (166.6,5.1),(168.1,5.5),(169.5,6.1),(170.9,6.4),(172.4,6.4),(173.8,6.5),(175.2,6.6),(176.6,6.8),
             (178.0,6.9),(179.5,6.9),(180.9,7.0),(182.3,7.1),(183.7,7.3),(184.4,7.3),(185.2,7.1),(186.6,6.5),
             (188.0,6.2),(189.4,6.0),(190.9,5.8),(192.3,5.5),(193.7,5.3),(195.1,5.3),(196.6,5.4),(198.0,5.5),
             (199.4,5.6),(200.9,5.6),(202.3,5.7),(203.7,5.7),(205.1,5.9),(206.6,5.9),(208.0,5.7),(209.4,5.7),
             (210.8,6.0),(212.3,6.2),(213.7,6.2),(215.1,6.3),(216.5,6.3),(218.0,6.3),(219.4,6.2),(220.8,5.8),
             (222.2,5.4),(223.7,5.1),(225.1,4.8),(226.5,4.6),(227.9,4.6),(229.4,4.8),(230.8,5.3),(232.2,5.8),
             (233.6,6.1),(235.1,6.2),(236.5,6.2),(237.9,6.1),(239.4,5.9),(240.8,5.7),(242.2,5.5),(243.6,5.3),
             (245.1,5.1),(246.5,5.0),(247.9,4.8),(249.3,4.7),(250.8,4.4),(252.2,4.2),(253.6,3.9),(255.0,3.7),
             (256.5,3.6),(257.9,3.4),(259.3,3.2),(260.7,3.1),(262.2,2.9),(263.6,2.8),(265.0,2.8),(266.4,2.7),
             (267.9,2.6),(269.3,2.6),(270.7,2.6),(272.9,2.6)]

colors = {'2017': '#1f5fc6', '2018': '#ee7b2e', '2019': '#7aab2b'}

# panels: (label, [(year, series, solid?), ...]) in drawing order
panels = [
    ('(a)', [('2018', gpp_a_2018, False), ('2019', gpp_a_2019, False), ('2017', gpp_a_2017, True)]),
    ('(b)', [('2017', gpp_b_2017, False), ('2019', gpp_b_2019, False), ('2018', gpp_b_2018, True)]),
    ('(c)', [('2017', gpp_c_2017, False), ('2018', gpp_c_2018, False), ('2019', gpp_c_2019, True)]),
    ('(d)', [('2018', er_d_2018, False), ('2019', er_d_2019, False), ('2017', er_d_2017, True)]),
    ('(e)', [('2017', er_e_2017, False), ('2019', er_e_2019, False), ('2018', er_e_2018, True)]),
    ('(f)', [('2017', er_f_2017, False), ('2018', er_f_2018, False), ('2019', er_f_2019, True)]),
]

axcol = '#262626'
fig = plt.figure(figsize=(20.67, 12.35), dpi=100)
lefts = [0.0469, 0.3720, 0.6976]
bottoms = [0.5445, 0.0642]
w, h = 0.3014, 0.4286

for i, (plabel, lines) in enumerate(panels):
    row, col = divmod(i, 3)
    ax = fig.add_axes([lefts[col], bottoms[row], w, h])
    for yr, series, solid in lines:
        xs = [p[0] for p in series]
        ys = [p[1] for p in series]
        if solid:
            ax.plot(xs, ys, color=colors[yr], lw=2.4, label=yr, solid_joinstyle='round')
        else:
            ax.plot(xs, ys, color=colors[yr], lw=2.4, label=yr, dashes=(4.2, 2.6))
    ax.set_xlim(100, 300)
    if row == 0:
        ax.set_ylim(-18, 0)
        ax.set_yticks(range(-18, 1, 3))
        ax.set_title(years[col], fontsize=20, fontweight='bold', pad=8)
    else:
        ax.set_ylim(0, 18)
        ax.set_yticks(range(0, 19, 3))
        ax.legend(loc='upper right', bbox_to_anchor=(0.947, 0.936), borderaxespad=0,
                  fontsize=19, frameon=True, fancybox=False, framealpha=1,
                  edgecolor='black', handlelength=3.2, handletextpad=0.45,
                  labelspacing=0.38, borderpad=0.42).get_frame().set_linewidth(1.3)
    ax.set_xticks(month_days)
    ax.set_xticklabels(month_labels)
    for s in ['top', 'right']:
        ax.spines[s].set_visible(False)
    for s in ['left', 'bottom']:
        ax.spines[s].set_color(axcol)
        ax.spines[s].set_linewidth(1.2)
    ax.tick_params(direction='in', width=1.2, colors=axcol, labelsize=19)
    ax.tick_params(axis='x', pad=12, length=7)
    ax.tick_params(axis='y', pad=5, length=5)
    ax.text(0.03, 0.975, plabel, transform=ax.transAxes, ha='left', va='top', fontsize=21, color='black')
    if col == 0:
        if row == 0:
            ax.set_ylabel('GPP (g C m$^{-2}$ d$^{-1}$)', fontsize=21, labelpad=6)
        else:
            ax.set_ylabel('ER (g C m$^{-2}$ d$^{-1}$)', fontsize=21, labelpad=6)
    if row == 1 and col == 1:
        ax.set_xlabel('Month', fontsize=21, labelpad=10)

fig.savefig('out.png', dpi=100)
